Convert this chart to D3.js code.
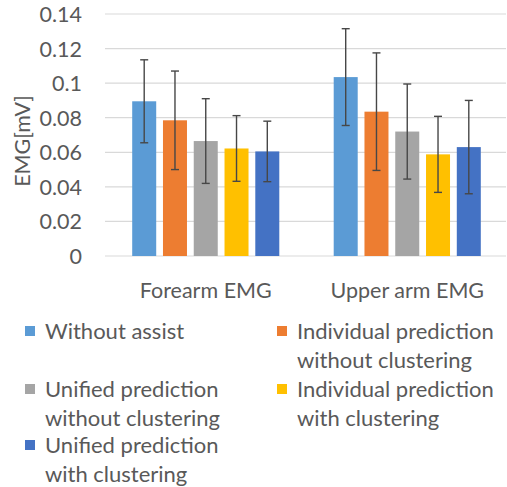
<!DOCTYPE html>
<html><head><meta charset="utf-8">
<script src="https://cdn.jsdelivr.net/npm/d3@7"></script>
<style>body{margin:0;background:#fff}svg{display:block}text{font-family:Lato,"Open Sans",sans-serif;fill:#595959}</style>
</head><body><svg id="c" width="507" height="487"></svg>
<script>
const categories = ["Forearm EMG", "Upper arm EMG"];
const seriesNames = ["Without assist", "Individual prediction without clustering", "Unified prediction without clustering", "Individual prediction with clustering", "Unified prediction with clustering"];
const legendLines = [["Without assist"], ["Individual prediction", "without clustering"], ["Unified prediction", "without clustering"], ["Individual prediction", "with clustering"], ["Unified prediction", "with clustering"]];
const colors = ["#5B9BD5", "#ED7D31", "#A5A5A5", "#FFC000", "#4472C4"];
// values[series][category]
const means = [[0.0895, 0.1035], [0.0785, 0.0835], [0.0665, 0.0720], [0.0622, 0.0588], [0.0605, 0.0630]];
const errs  = [[0.024, 0.028], [0.0285, 0.034], [0.0245, 0.0275], [0.019, 0.022], [0.0175, 0.027]];
const yTicks = [0, 0.02, 0.04, 0.06, 0.08, 0.1, 0.12, 0.14];
const yTitle = "EMG[mV]";

const svg = d3.select("#c");
const x0 = d3.scaleBand().domain(categories).range([105, 508]).paddingInner(0.27).paddingOuter(0.135);
const x1 = d3.scaleBand().domain(d3.range(seriesNames.length)).range([0, x0.bandwidth()]).paddingInner(0.22).paddingOuter(0);
const y = d3.scaleLinear().domain([0, 0.14]).range([256, 14]);

// grid
svg.append("g").selectAll("line").data(yTicks).join("line")
  .attr("x1", 105).attr("x2", 506).attr("y1", d => y(d)).attr("y2", d => y(d))
  .attr("stroke", "#D9D9D9").attr("stroke-width", 1.2);

// y axis labels
const yAxis = d3.axisLeft(y).tickValues(yTicks).tickSize(0).tickPadding(0).tickFormat(d => d3.format("")(+d.toFixed(2)));
const ya = svg.append("g").attr("transform", "translate(82,0)").call(yAxis);
ya.select(".domain").remove();
ya.selectAll("text").style("font-size", "21.5px").attr("fill", "#595959").attr("dy", "0.35em");

svg.append("text").attr("transform", "translate(22,141) rotate(-90)").attr("text-anchor", "middle")
  .attr("dy", "0.35em").style("font-size", "21.5px").text(yTitle);

// bars
const groups = svg.append("g").selectAll("g").data(categories).join("g")
  .attr("transform", d => `translate(${x0(d)},0)`);
groups.each(function(cat, ci) {
  const g = d3.select(this);
  const data = seriesNames.map((s, si) => ({si, m: means[si][ci], e: errs[si][ci]}));
  g.selectAll("rect").data(data).join("rect")
    .attr("x", d => x1(d.si)).attr("width", x1.bandwidth())
    .attr("y", d => y(d.m)).attr("height", d => y(0) - y(d.m))
    .attr("fill", d => colors[d.si]);
  const eb = g.selectAll("g.err").data(data).join("g").attr("class", "err")
    .attr("stroke", "#474747").attr("stroke-width", 1.4);
  eb.append("line").attr("x1", d => x1(d.si) + x1.bandwidth()/2).attr("x2", d => x1(d.si) + x1.bandwidth()/2)
    .attr("y1", d => y(d.m + d.e)).attr("y2", d => y(d.m - d.e));
  [1, -1].forEach(s => eb.append("line")
    .attr("x1", d => x1(d.si) + x1.bandwidth()/2 - 4).attr("x2", d => x1(d.si) + x1.bandwidth()/2 + 4)
    .attr("y1", d => y(d.m + s*d.e)).attr("y2", d => y(d.m + s*d.e)));
});

// x labels
svg.append("g").selectAll("text").data(categories).join("text")
  .attr("x", d => x0(d) + x0.bandwidth()/2).attr("y", 290).attr("dy", "0.35em")
  .attr("text-anchor", "middle").style("font-size", "21.5px").text(d => d);

// legend
const legPos = [[25, 331], [277, 331], [25, 389], [277, 389], [25, 445]];
const lg = svg.append("g").selectAll("g").data(legendLines).join("g")
  .attr("transform", (d, i) => `translate(${legPos[i][0]},${legPos[i][1]})`);
lg.append("rect").attr("x", 0).attr("y", -5).attr("width", 10).attr("height", 10).attr("fill", (d, i) => colors[i]);
lg.each(function(lines) {
  d3.select(this).selectAll("text").data(lines).join("text")
    .attr("x", 20).attr("y", (d, j) => j * 29).attr("dy", "0.35em")
    .style("font-size", "22px").text(d => d);
});
</script></body></html>
